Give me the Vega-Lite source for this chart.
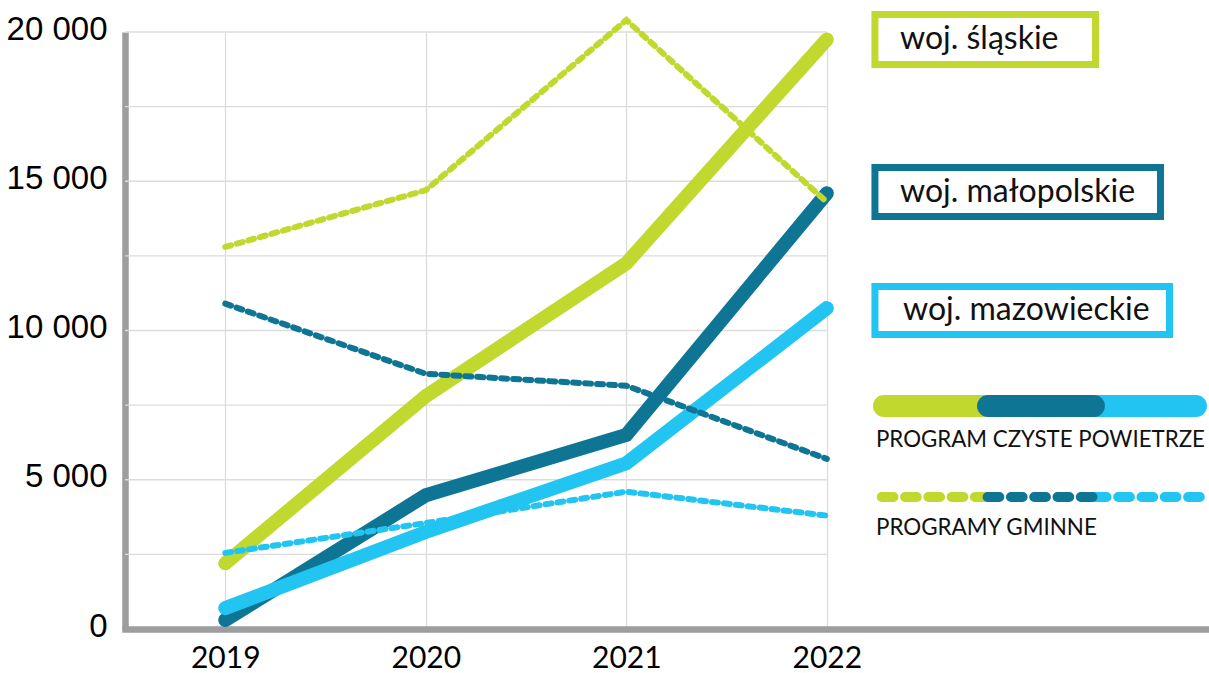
{
  "$schema": "https://vega.github.io/schema/vega-lite/v6.json",
  "width": 1084,
  "height": 597,
  "autosize": {"type": "none"},
  "padding": {"left": 125, "top": 32, "right": 0, "bottom": 44},
  "background": "white",
  "config": {"view": {"stroke": null}, "font": "Lato"},
  "datasets": {
    "series": [
      {"year": 2019, "value": 2200, "region": "woj. śląskie", "program": "Program Czyste Powietrze"},
      {"year": 2020, "value": 7800, "region": "woj. śląskie", "program": "Program Czyste Powietrze"},
      {"year": 2021, "value": 12250, "region": "woj. śląskie", "program": "Program Czyste Powietrze"},
      {"year": 2022, "value": 19750, "region": "woj. śląskie", "program": "Program Czyste Powietrze"},
      {"year": 2019, "value": 300, "region": "woj. małopolskie", "program": "Program Czyste Powietrze"},
      {"year": 2020, "value": 4480, "region": "woj. małopolskie", "program": "Program Czyste Powietrze"},
      {"year": 2021, "value": 6500, "region": "woj. małopolskie", "program": "Program Czyste Powietrze"},
      {"year": 2022, "value": 14600, "region": "woj. małopolskie", "program": "Program Czyste Powietrze"},
      {"year": 2019, "value": 700, "region": "woj. mazowieckie", "program": "Program Czyste Powietrze"},
      {"year": 2020, "value": 3250, "region": "woj. mazowieckie", "program": "Program Czyste Powietrze"},
      {"year": 2021, "value": 5550, "region": "woj. mazowieckie", "program": "Program Czyste Powietrze"},
      {"year": 2022, "value": 10750, "region": "woj. mazowieckie", "program": "Program Czyste Powietrze"},
      {"year": 2019, "value": 12800, "region": "woj. śląskie", "program": "Programy gminne"},
      {"year": 2020, "value": 14700, "region": "woj. śląskie", "program": "Programy gminne"},
      {"year": 2021, "value": 20400, "region": "woj. śląskie", "program": "Programy gminne"},
      {"year": 2022, "value": 14300, "region": "woj. śląskie", "program": "Programy gminne"},
      {"year": 2019, "value": 10900, "region": "woj. małopolskie", "program": "Programy gminne"},
      {"year": 2020, "value": 8550, "region": "woj. małopolskie", "program": "Programy gminne"},
      {"year": 2021, "value": 8150, "region": "woj. małopolskie", "program": "Programy gminne"},
      {"year": 2022, "value": 5700, "region": "woj. małopolskie", "program": "Programy gminne"},
      {"year": 2019, "value": 2550, "region": "woj. mazowieckie", "program": "Programy gminne"},
      {"year": 2020, "value": 3550, "region": "woj. mazowieckie", "program": "Programy gminne"},
      {"year": 2021, "value": 4600, "region": "woj. mazowieckie", "program": "Programy gminne"},
      {"year": 2022, "value": 3800, "region": "woj. mazowieckie", "program": "Programy gminne"}
    ],
    "grid": [{"v": 2500}, {"v": 5000}, {"v": 7500}, {"v": 10000}, {"v": 12500}, {"v": 15000}, {"v": 17500}, {"v": 20000}],
    "one": [{"k": 1}]
  },
  "layer": [
    {
      "data": {"name": "grid"},
      "mark": {"type": "rule", "color": "#dcdcdc", "strokeWidth": 1.3},
      "encoding": {
        "y": {"field": "v", "type": "quantitative"},
        "x": {"datum": 2018.5, "type": "quantitative"},
        "x2": {"datum": 2022}
      }
    },
    {
      "data": {"name": "series"},
      "transform": [{"filter": "datum.program === 'Program Czyste Powietrze'"}],
      "mark": {"type": "line", "strokeWidth": 14, "strokeCap": "round", "strokeJoin": "miter"},
      "encoding": {
        "x": {
          "field": "year", "type": "quantitative",
          "scale": {"domain": [2018.5, 2023.906], "nice": false, "zero": false},
          "axis": {
            "title": null, "values": [2019, 2020, 2021, 2022], "format": "d",
            "labelFont": "Lato", "labelFontSize": 30, "labelColor": "#000000",
            "grid": true, "gridColor": "#dcdcdc", "gridWidth": 1.3,
            "domainColor": "#9d9d9f", "domainWidth": 6.5, "domainCap": "square",
            "ticks": false, "tickSize": 0, "labelPadding": 14
          }
        },
        "y": {
          "field": "value", "type": "quantitative",
          "scale": {"domain": [0, 20000], "nice": false, "zero": true},
          "axis": {
            "title": null, "values": [0, 5000, 10000, 15000, 20000],
            "labelExpr": "replace(format(datum.value, ','), ',', ' ')",
            "labelFont": "Liberation Sans", "labelFontSize": 33, "labelColor": "#000000",
            "labelBaseline": "middle", "labelOffset": -3,
            "grid": false, "domainColor": "#9d9d9f", "domainWidth": 6.5,
            "ticks": false, "tickSize": 0, "labelPadding": 18
          }
        },
        "color": {
          "field": "region", "type": "nominal",
          "scale": {"domain": ["woj. śląskie", "woj. małopolskie", "woj. mazowieckie"], "range": ["#c1d82f", "#0f7594", "#22c4f2"]},
          "legend": null
        }
      }
    },
    {
      "data": {"name": "series"},
      "transform": [{"filter": "datum.program === 'Programy gminne'"}],
      "mark": {"type": "line", "strokeWidth": 6, "strokeCap": "round", "strokeDash": [6, 6]},
      "encoding": {
        "x": {"field": "year", "type": "quantitative"},
        "y": {"field": "value", "type": "quantitative"},
        "color": {"field": "region", "type": "nominal", "legend": null}
      }
    },
    {
      "data": {"name": "one"},
      "mark": {"type": "rect", "fill": "white", "stroke": "#c1d82f", "strokeWidth": 7},
      "encoding": {"x": {"datum": 2022.24}, "x2": {"datum": 2023.34}, "y": {"datum": 20586}, "y2": {"datum": 18911}}
    },
    {
      "data": {"name": "one"},
      "mark": {"type": "rect", "fill": "white", "stroke": "#0f7594", "strokeWidth": 7},
      "encoding": {"x": {"datum": 2022.24}, "x2": {"datum": 2023.664}, "y": {"datum": 15461}, "y2": {"datum": 13819}}
    },
    {
      "data": {"name": "one"},
      "mark": {"type": "rect", "fill": "white", "stroke": "#22c4f2", "strokeWidth": 7},
      "encoding": {"x": {"datum": 2022.24}, "x2": {"datum": 2023.709}, "y": {"datum": 11474}, "y2": {"datum": 9866}}
    },
    {
      "data": {"name": "one"},
      "mark": {"type": "text", "text": "woj. śląskie", "font": "Lato", "fontSize": 32, "align": "left", "baseline": "middle", "color": "#111111"},
      "encoding": {"x": {"datum": 2022.365}, "y": {"datum": 19749}}
    },
    {
      "data": {"name": "one"},
      "mark": {"type": "text", "text": "woj. małopolskie", "font": "Lato", "fontSize": 32, "align": "left", "baseline": "middle", "color": "#111111"},
      "encoding": {"x": {"datum": 2022.365}, "y": {"datum": 14640}}
    },
    {
      "data": {"name": "one"},
      "mark": {"type": "text", "text": "woj. mazowieckie", "font": "Lato", "fontSize": 32, "align": "left", "baseline": "middle", "color": "#111111"},
      "encoding": {"x": {"datum": 2022.38}, "y": {"datum": 10687}}
    },
    {
      "data": {"name": "one"},
      "mark": {"type": "rule", "color": "#c1d82f", "strokeWidth": 22, "strokeCap": "round"},
      "encoding": {"x": {"datum": 2022.285}, "x2": {"datum": 2022.864}, "y": {"datum": 7471}}
    },
    {
      "data": {"name": "one"},
      "mark": {"type": "rule", "color": "#22c4f2", "strokeWidth": 22, "strokeCap": "round"},
      "encoding": {"x": {"datum": 2023.313}, "x2": {"datum": 2023.841}, "y": {"datum": 7471}}
    },
    {
      "data": {"name": "one"},
      "mark": {"type": "rule", "color": "#0f7594", "strokeWidth": 22, "strokeCap": "round"},
      "encoding": {"x": {"datum": 2022.804}, "x2": {"datum": 2023.332}, "y": {"datum": 7471}}
    },
    {
      "data": {"name": "one"},
      "mark": {"type": "text", "text": "PROGRAM CZYSTE POWIETRZE", "font": "Lato", "fontSize": 22.3, "align": "left", "baseline": "middle", "color": "#111111"},
      "encoding": {"x": {"datum": 2022.245}, "y": {"datum": 6348}}
    },
    {
      "data": {"name": "one"},
      "mark": {"type": "rule", "color": "#c1d82f", "strokeWidth": 10, "strokeCap": "round", "strokeDash": [11.7, 11.6]},
      "encoding": {"x": {"datum": 2022.274}, "x2": {"datum": 2022.799}, "y": {"datum": 4422}}
    },
    {
      "data": {"name": "one"},
      "mark": {"type": "rule", "color": "#22c4f2", "strokeWidth": 10, "strokeCap": "round", "strokeDash": [11.7, 11.6]},
      "encoding": {"x": {"datum": 2023.337}, "x2": {"datum": 2023.861}, "y": {"datum": 4422}}
    },
    {
      "data": {"name": "one"},
      "mark": {"type": "rule", "color": "#0f7594", "strokeWidth": 10, "strokeCap": "round", "strokeDash": [11.7, 11.6]},
      "encoding": {"x": {"datum": 2022.802}, "x2": {"datum": 2023.325}, "y": {"datum": 4422}}
    },
    {
      "data": {"name": "one"},
      "mark": {"type": "text", "text": "PROGRAMY GMINNE", "font": "Lato", "fontSize": 22.4, "align": "left", "baseline": "middle", "color": "#111111"},
      "encoding": {"x": {"datum": 2022.245}, "y": {"datum": 3367}}
    }
  ]
}
